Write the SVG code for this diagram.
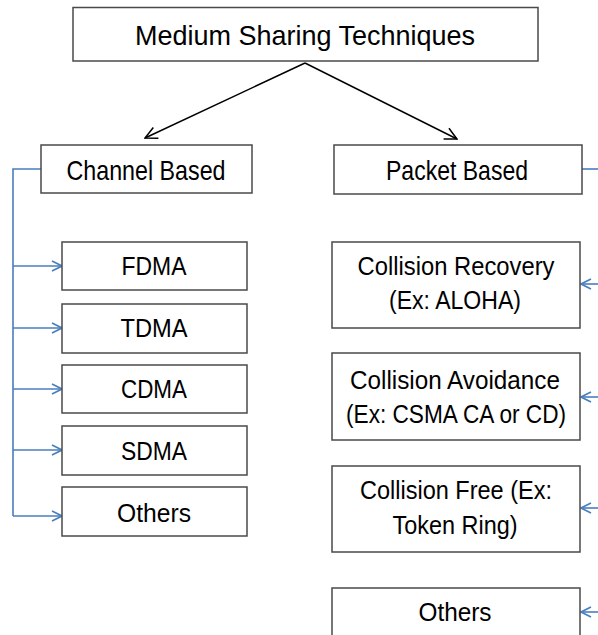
<svg xmlns="http://www.w3.org/2000/svg" width="598" height="635" viewBox="0 0 598 635">
  <style>
    .box { fill: #ffffff; stroke: #4a4a4a; stroke-width: 1.5; }
    .t { font-family: "Liberation Sans", Arial, sans-serif; fill: #000000; text-anchor: middle; }
    .big { font-size: 27.5px; }
    .lbl { font-size: 25.5px; }
    .dark { fill: none; stroke: #000000; stroke-width: 1.5; }
    .blue { fill: none; stroke: #4a7ebb; stroke-width: 1.6; }
  </style>
  <defs>
    <marker id="openBlack" viewBox="0 0 14 14" refX="13" refY="7" markerWidth="14" markerHeight="14" markerUnits="userSpaceOnUse" orient="auto">
      <path d="M1,1 L13,7 L1,13" fill="none" stroke="#000000" stroke-width="1.5"/>
    </marker>
    <marker id="openBlue" viewBox="0 0 12 12" refX="11" refY="6" markerWidth="12" markerHeight="12" markerUnits="userSpaceOnUse" orient="auto">
      <path d="M1,1 L11,6 L1,11" fill="none" stroke="#4a7ebb" stroke-width="1.6"/>
    </marker>
  </defs>

  <g id="connectors">
    <path class="dark" d="M305,63 L145,138" marker-end="url(#openBlack)"/>
    <path class="dark" d="M305,63 L457,139" marker-end="url(#openBlack)"/>
    <!-- channel-based tree -->
    <path class="blue" d="M41,169 L13,169 L13,516"/>
    <path class="blue" d="M13,266 L62,266" marker-end="url(#openBlue)"/>
    <path class="blue" d="M13,328 L62,328" marker-end="url(#openBlue)"/>
    <path class="blue" d="M13,389 L62,389" marker-end="url(#openBlue)"/>
    <path class="blue" d="M13,450 L62,450" marker-end="url(#openBlue)"/>
    <path class="blue" d="M13,516 L62,516" marker-end="url(#openBlue)"/>
    <!-- packet-based tree -->
    <path class="blue" d="M582,169 L600,169"/>
    <path class="blue" d="M600,284 L581,284" marker-end="url(#openBlue)"/>
    <path class="blue" d="M600,397 L581,397" marker-end="url(#openBlue)"/>
    <path class="blue" d="M600,508 L581,508" marker-end="url(#openBlue)"/>
    <path class="blue" d="M600,612 L581,612" marker-end="url(#openBlue)"/>
  </g>

  <g id="root">
    <rect class="box" x="73" y="7.5" width="465" height="53.5"/>
    <text class="t big" x="305" y="44.5" textLength="340" lengthAdjust="spacingAndGlyphs">Medium Sharing Techniques</text>
  </g>

  <g id="channel-based">
    <rect class="box" x="41" y="145" width="211" height="48"/>
    <text class="t big" x="146" y="179.5" textLength="159" lengthAdjust="spacingAndGlyphs">Channel Based</text>
  </g>
  <g id="packet-based">
    <rect class="box" x="334" y="145" width="248" height="49"/>
    <text class="t big" x="457" y="179.5" textLength="142" lengthAdjust="spacingAndGlyphs">Packet Based</text>
  </g>

  <g id="fdma">
    <rect class="box" x="62" y="242" width="185" height="48"/>
    <text class="t lbl" x="154" y="275" textLength="65" lengthAdjust="spacingAndGlyphs">FDMA</text>
  </g>
  <g id="tdma">
    <rect class="box" x="62" y="304" width="185" height="49"/>
    <text class="t lbl" x="154" y="337" textLength="67" lengthAdjust="spacingAndGlyphs">TDMA</text>
  </g>
  <g id="cdma">
    <rect class="box" x="62" y="365" width="185" height="48"/>
    <text class="t lbl" x="154" y="398" textLength="66" lengthAdjust="spacingAndGlyphs">CDMA</text>
  </g>
  <g id="sdma">
    <rect class="box" x="62" y="426" width="185" height="49"/>
    <text class="t lbl" x="154" y="460" textLength="66" lengthAdjust="spacingAndGlyphs">SDMA</text>
  </g>
  <g id="others-channel">
    <rect class="box" x="62" y="487" width="185" height="49"/>
    <text class="t lbl" x="154" y="522" textLength="74" lengthAdjust="spacingAndGlyphs">Others</text>
  </g>

  <g id="collision-recovery">
    <rect class="box" x="332" y="242" width="248" height="86"/>
    <text class="t lbl" x="456" y="275" textLength="197" lengthAdjust="spacingAndGlyphs">Collision Recovery</text>
    <text class="t lbl" x="455" y="309" textLength="132" lengthAdjust="spacingAndGlyphs">(Ex: ALOHA)</text>
  </g>
  <g id="collision-avoidance">
    <rect class="box" x="332" y="353" width="248" height="87"/>
    <text class="t lbl" x="455" y="389" textLength="210" lengthAdjust="spacingAndGlyphs">Collision Avoidance</text>
    <text class="t lbl" x="456" y="423" textLength="220" lengthAdjust="spacingAndGlyphs">(Ex: CSMA CA or CD)</text>
  </g>
  <g id="collision-free">
    <rect class="box" x="332" y="466" width="248" height="86"/>
    <text class="t lbl" x="456" y="499" textLength="192" lengthAdjust="spacingAndGlyphs">Collision Free (Ex:</text>
    <text class="t lbl" x="455" y="534" textLength="125" lengthAdjust="spacingAndGlyphs">Token Ring)</text>
  </g>
  <g id="others-packet">
    <rect class="box" x="332" y="588" width="248" height="60"/>
    <text class="t lbl" x="455" y="621" textLength="73" lengthAdjust="spacingAndGlyphs">Others</text>
  </g>
</svg>
